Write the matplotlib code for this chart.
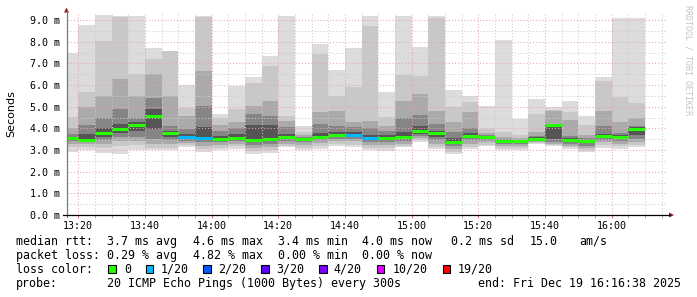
import numpy as np
import matplotlib
matplotlib.use("Agg")
import matplotlib.pyplot as plt
from matplotlib.patches import Polygon, Rectangle
from matplotlib.lines import Line2D

# ---- data: one column per 5-minute step (first one is partial) ----
step_end = ["13:20", "13:25", "13:30", "13:35", "13:40", "13:45", "13:50", "13:55",
            "14:00", "14:05", "14:10", "14:15", "14:20", "14:25", "14:30", "14:35",
            "14:40", "14:45", "14:50", "14:55", "15:00", "15:05", "15:10", "15:15",
            "15:20", "15:25", "15:30", "15:35", "15:40", "15:45", "15:50", "15:55",
            "16:00", "16:05", "16:10"]
graph_start = "13:16:38"
graph_end = "16:16:38"

# rtt in ms: max, upper smoke edges, median, lower smoke edges, min
rtt_max = [7.46, 8.77, 9.23, 9.20, 9.18, 7.70, 7.58, 6.01, 9.20, 4.67,
           5.95, 6.38, 7.35, 9.18, 4.09, 7.88, 6.69, 7.73, 9.18, 5.66,
           9.18, 7.76, 9.18, 5.79, 5.47, 5.05, 8.07, 4.44, 5.36, 4.97,
           5.28, 4.55, 6.38, 9.07, 9.10]
up1 = [4.54, 5.69, 8.05, 9.15, 6.50, 7.20, 7.55, 4.96, 9.15, 4.50,
       4.90, 6.10, 6.89, 4.59, 3.85, 7.42, 5.51, 5.89, 8.72, 4.51,
       6.45, 6.42, 9.10, 4.98, 5.20, 3.98, 3.83, 3.70, 4.67, 4.85,
       4.75, 4.15, 6.20, 5.46, 5.16]
up2 = [4.00, 5.00, 5.50, 6.27, 5.50, 6.50, 5.50, 4.55, 6.66, 4.15,
       4.29, 5.05, 5.28, 4.35, 3.70, 4.74, 4.82, 4.29, 4.36, 4.13,
       5.28, 5.59, 4.82, 4.30, 4.75, 3.80, 3.60, 3.55, 3.85, 4.80,
       4.40, 3.70, 4.82, 4.29, 4.50]
up3 = [3.75, 4.15, 4.50, 4.90, 4.50, 5.40, 4.10, 3.98, 5.05, 3.90,
       4.00, 4.68, 4.55, 4.05, 3.60, 4.20, 4.10, 4.05, 4.00, 3.90,
       4.50, 4.60, 4.20, 3.85, 4.00, 3.70, 3.52, 3.48, 3.65, 4.20,
       3.65, 3.55, 4.13, 3.80, 4.13]
up4 = [3.62, 3.75, 4.00, 4.20, 4.30, 4.90, 3.90, 3.75, 4.05, 3.65,
       3.75, 4.15, 4.15, 3.75, 3.56, 3.80, 3.85, 3.85, 3.70, 3.70,
       3.85, 4.10, 3.90, 3.55, 3.80, 3.65, 3.47, 3.45, 3.58, 4.17,
       3.55, 3.47, 3.75, 3.70, 4.05]
median = [3.55, 3.48, 3.79, 3.97, 4.17, 4.59, 3.77, 3.60, 3.57, 3.50,
          3.55, 3.44, 3.52, 3.60, 3.53, 3.62, 3.71, 3.70, 3.55, 3.57,
          3.58, 3.87, 3.78, 3.38, 3.66, 3.60, 3.43, 3.41, 3.53, 4.14,
          3.44, 3.41, 3.63, 3.60, 3.96]
dn4 = [3.50, 3.42, 3.60, 3.80, 3.90, 3.95, 3.60, 3.50, 3.45, 3.42,
       3.48, 3.35, 3.42, 3.50, 3.45, 3.55, 3.60, 3.62, 3.45, 3.48,
       3.50, 3.75, 3.60, 3.30, 3.55, 3.52, 3.37, 3.35, 3.48, 3.50,
       3.38, 3.33, 3.55, 3.50, 3.70]
dn3 = [3.42, 3.36, 3.45, 3.60, 3.60, 3.50, 3.45, 3.42, 3.35, 3.35,
       3.40, 3.25, 3.30, 3.40, 3.35, 3.45, 3.50, 3.52, 3.35, 3.38,
       3.40, 3.65, 3.45, 3.20, 3.45, 3.45, 3.30, 3.28, 3.42, 3.35,
       3.30, 3.20, 3.45, 3.40, 3.50]
dn2 = [3.30, 3.28, 3.30, 3.40, 3.40, 3.30, 3.30, 3.32, 3.20, 3.25,
       3.30, 3.10, 3.15, 3.30, 3.22, 3.32, 3.40, 3.40, 3.22, 3.25,
       3.30, 3.55, 3.30, 3.05, 3.30, 3.35, 3.20, 3.20, 3.38, 3.28,
       3.20, 3.10, 3.35, 3.30, 3.35]
dn1 = [3.15, 3.15, 3.10, 3.20, 3.25, 3.10, 3.10, 3.22, 3.05, 3.10,
       3.18, 2.95, 3.00, 3.20, 3.10, 3.18, 3.30, 3.25, 3.10, 3.10,
       3.20, 3.45, 3.15, 2.93, 3.15, 3.25, 3.08, 3.10, 3.33, 3.22,
       3.12, 3.00, 3.22, 3.18, 3.22]
rtt_min = [2.92, 3.02, 2.86, 2.83, 3.00, 3.00, 2.98, 3.13, 2.92, 2.98,
           3.06, 2.80, 2.86, 3.12, 3.00, 3.05, 3.20, 3.14, 2.98, 2.95,
           3.14, 3.37, 3.06, 2.83, 3.06, 3.20, 2.98, 3.00, 3.29, 3.17,
           3.06, 2.90, 3.11, 3.06, 3.14]
# lost pings out of 20 per step
lost = [0, 0, 0, 0, 0, 0, 0, 1, 1, 0, 0, 0, 0, 0, 0, 0, 0, 1, 1, 0,
        0, 0, 0, 0, 0, 0, 0, 0, 0, 0, 0, 0, 0, 0, 0]

loss_labels = ["0", "1/20", "2/20", "3/20", "4/20", "10/20", "19/20"]
loss_colors = ["#26ff00", "#00b8ff", "#0059ff", "#5e00ff", "#7e00ff", "#dd00ff", "#ff0000"]

yticks = [0, 1, 2, 3, 4, 5, 6, 7, 8, 9]
xtick_labels = ["13:20", "13:40", "14:00", "14:20", "14:40", "15:00", "15:20", "15:40", "16:00"]

rtt_line = [("median rtt:", 16), ("3.7 ms avg", 107.3), ("4.6 ms max", 192.7),
            ("3.4 ms min", 278.3), ("4.0 ms now", 362.3), ("0.2 ms sd", 451),
            ("15.0", 530), ("am/s", 579.3)]
loss_line = [("packet loss:", 16), ("0.29 % avg", 107.3), ("4.82 % max", 192.7),
             ("0.00 % min", 278.3), ("0.00 % now", 362.3)]
probe_line = [("probe:", 16), ("20 ICMP Echo Pings (1000 Bytes) every 300s", 107.3),
              ("end: Fri Dec 19 16:16:38 2025", 478.3)]


def to_min(s):
    p = [int(v) for v in s.split(":")]
    return p[0] * 60 + p[1] + (p[2] / 60 if len(p) > 2 else 0)


W, H = 697, 297
MONO = "DejaVu Sans Mono"


def fx(x):
    return x / W


def fy(y):
    return 1 - y / H


ends = np.array([to_min(s) for s in step_end])
lefts = np.concatenate([[to_min(graph_start)], ends[:-1]])
widths = ends - lefts
t0, t1 = to_min(graph_start), to_min(graph_end)

fig = plt.figure(figsize=(W / 100, H / 100), dpi=100)
fig.patch.set_facecolor("white")
ax = fig.add_axes([fx(67), fy(215), 600 / W, (215 - 13.5) / H])
ax.set_xlim(t0, t1)
ax.set_ylim(0, 9.3)
for s in ax.spines.values():
    s.set_visible(False)

# smoke: nested bands, light outside -> dark near median
bands = [(rtt_min, rtt_max, "#dcdcdc"), (dn1, up1, "#c8c8c8"), (dn2, up2, "#aaaaaa"),
         (dn3, up3, "#858585"), (dn4, up4, "#555555")]
for lo, hi, c in bands:
    lo = np.array(lo); hi = np.array(hi)
    ax.bar(lefts, hi - lo, bottom=lo, width=widths, align="edge", color=c,
           linewidth=0, antialiased=False, zorder=1)

med_cols = [loss_colors[n] for n in lost]
ax.hlines(median, lefts, ends, colors=med_cols, linewidth=2.2, zorder=4)

# grid
ax.set_axisbelow(False)
ax.set_yticks(yticks)
ax.set_yticks(np.arange(0.5, 9.3, 1.0), minor=True)
ax.set_yticklabels([f"{v:.1f} m" for v in yticks], family=MONO, fontsize=7.2)
xt = [to_min(s) for s in xtick_labels]
ax.set_xticks(xt)
ax.set_xticks(np.arange(800, t1, 5), minor=True)
ax.set_xticklabels(xtick_labels, family=MONO, fontsize=7.2)
ax.grid(True, which="major", color="#e4a8a8", linestyle=(0, (1, 2)), linewidth=0.75)
ax.grid(True, which="minor", color="#cccccc", linestyle=(0, (1, 2)), linewidth=0.75)
ax.tick_params(axis="y", which="both", length=0, pad=4.8)
ax.tick_params(axis="x", which="major", length=2.2, width=0.75, color="#d08080", pad=2.2)
ax.tick_params(axis="x", which="minor", length=2.2, width=0.75, color="#b0b0b0")

# axis lines and arrows (pixel coords)
fig.add_artist(Line2D([fx(66.5), fx(66.5)], [fy(217), fy(10)], color="#7a7a7a", lw=0.9))
fig.add_artist(Line2D([fx(63), fx(670)], [fy(215), fy(215)], color="black", lw=0.9))
fig.add_artist(Polygon([(fx(64), fy(12.5)), (fx(69), fy(12.5)), (fx(66.5), fy(7.5))],
                       closed=True, color="#8c1c1c", lw=0))
fig.add_artist(Polygon([(fx(669), fy(212.5)), (fx(669), fy(217.5)), (fx(674), fy(215))],
                       closed=True, color="#8c1c1c", lw=0))

fig.text(fx(11), fy(113.5), "Seconds", rotation=90, ha="center", va="center",
         fontsize=8, family="DejaVu Sans")
fig.text(fx(688), fy(5), "RRDTOOL / TOBI OETIKER", rotation=270, ha="center", va="top",
         fontsize=6, family=MONO, color="#c4c4c4")

# legend block
for line, base in [(rtt_line, 245), (loss_line, 259), (probe_line, 287)]:
    for txt, x in line:
        fig.text(fx(x), fy(base), txt, family=MONO, fontsize=8.4, va="baseline", ha="left")

fig.text(fx(16), fy(273), "loss color:", family=MONO, fontsize=8.4, va="baseline", ha="left")
box_x = [108.3, 145.7, 203.3, 261, 319, 376.7, 442.7]
txt_x = [124, 161, 218.3, 276, 333.3, 392.7, 457.7]
for bx, tx, lab, col in zip(box_x, txt_x, loss_labels, loss_colors):
    fig.add_artist(Rectangle((fx(bx), fy(273)), 7.5 / W, 8 / H, facecolor=col,
                             edgecolor="black", lw=0.8))
    fig.text(fx(tx), fy(273), lab, family=MONO, fontsize=8.4, va="baseline", ha="left")

fig.savefig("out.png", dpi=100)
